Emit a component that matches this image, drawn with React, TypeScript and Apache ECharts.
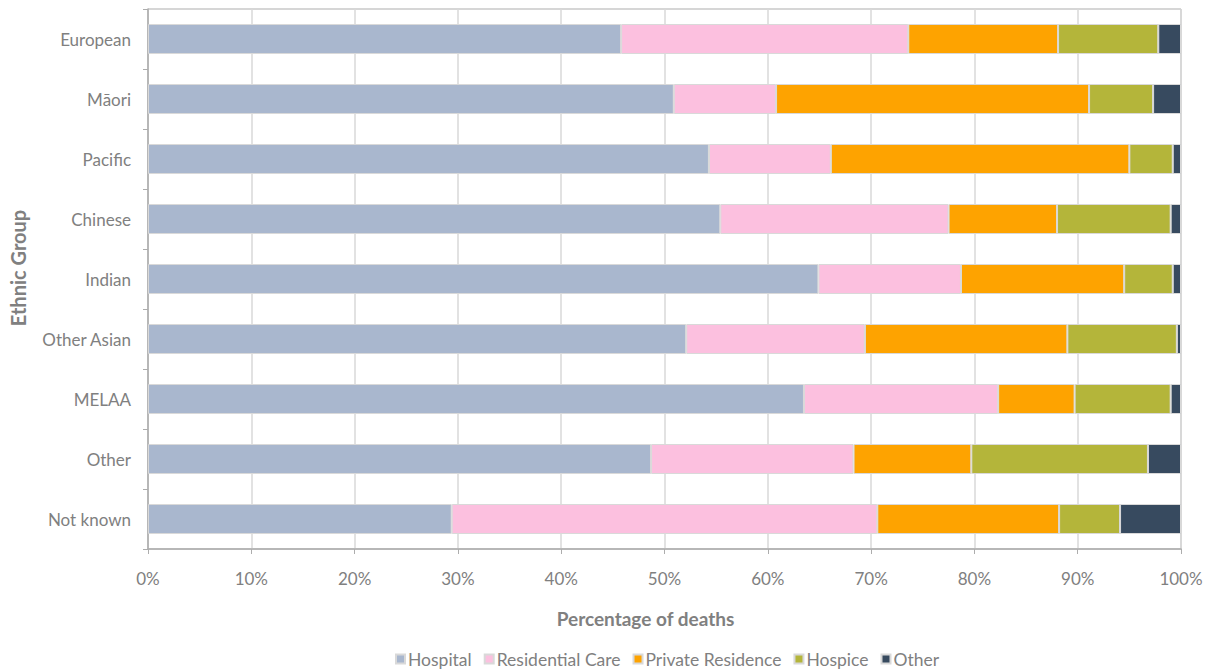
import React, { useEffect, useRef } from "react";
import * as echarts from "echarts";

const categories = ["European", "Māori", "Pacific", "Chinese", "Indian", "Other Asian", "MELAA", "Other", "Not known"];
const hospital = [45.8, 50.9, 54.3, 55.4, 64.9, 52.1, 63.5, 48.7, 29.4];
const residentialCare = [27.8, 9.9, 11.8, 22.1, 13.8, 17.3, 18.8, 19.6, 41.2];
const privateResidence = [14.5, 30.3, 28.9, 10.5, 15.8, 19.6, 7.4, 11.4, 17.6];
const hospice = [9.7, 6.2, 4.2, 11.0, 4.7, 10.6, 9.3, 17.1, 5.9];
const other = [2.2, 2.7, 0.8, 1.0, 0.8, 0.4, 1.0, 3.2, 5.9];
const xTicks = [0, 10, 20, 30, 40, 50, 60, 70, 80, 90, 100];

const seriesDefs = [
  { name: "Hospital", data: hospital, color: "#A9B7CE" },
  { name: "Residential Care", data: residentialCare, color: "#FCC0DF" },
  { name: "Private Residence", data: privateResidence, color: "#FEA300" },
  { name: "Hospice", data: hospice, color: "#B4B53A" },
  { name: "Other", data: other, color: "#374A5F" },
];

const FONT = "Lato, 'Open Sans', sans-serif";
const GREY = "#808080";

export default function App() {
  const ref = useRef<HTMLDivElement>(null);
  useEffect(() => {
    if (!ref.current) return;
    const chart = echarts.init(ref.current, null, { renderer: "svg" });
    chart.setOption({
      animation: false,
      textStyle: { fontFamily: FONT },
      grid: {
        left: 148,
        right: 37,
        top: 9,
        bottom: 122,
        show: true,
        borderColor: "#ADADAD",
        borderWidth: 1,
        containLabel: false,
        outerBoundsMode: "none",
      },
      legend: {
        top: 649,
        left: 395,
        padding: 0,
        itemWidth: 9,
        itemHeight: 9,
        itemGap: 12,
        icon: "rect",
        textStyle: {
          fontFamily: FONT,
          fontSize: 17.5,
          lineHeight: 20,
          color: GREY,
          padding: [0, 0, 0, -2],
        },
        data: seriesDefs.map((s) => s.name),
      },
      xAxis: {
        type: "value",
        min: 0,
        max: 100,
        interval: 10,
        name: "Percentage of deaths",
        nameLocation: "middle",
        nameGap: 60,
        nameTextStyle: {
          fontFamily: FONT,
          fontSize: 19,
          fontWeight: "bold",
          color: GREY,
          padding: [0, 38, 0, 0],
        },
        axisLine: { show: true, lineStyle: { color: "#ADADAD", width: 1.5 } },
        axisTick: { show: true, length: 5, lineStyle: { color: "#ADADAD" } },
        axisLabel: {
          fontFamily: FONT,
          fontSize: 17,
          color: GREY,
          margin: 21,
          formatter: (v: number) => (xTicks.includes(v) ? v + "%" : ""),
        },
        splitLine: { show: true, lineStyle: { color: "#D9D9D9", width: 1.5 } },
      },
      yAxis: {
        type: "category",
        data: categories,
        inverse: true,
        name: "Ethnic Group",
        nameLocation: "middle",
        nameGap: 120,
        nameRotate: 90,
        nameTextStyle: {
          fontFamily: FONT,
          fontSize: 20,
          fontWeight: "bold",
          color: GREY,
          padding: [0, 0, 0, 22],
        },
        axisLine: { show: true, lineStyle: { color: "#ADADAD", width: 1.5 } },
        axisTick: { show: true, length: 5, lineStyle: { color: "#ADADAD" } },
        axisLabel: { fontFamily: FONT, fontSize: 17, color: GREY, margin: 17 },
      },
      series: seriesDefs.map((s) => ({
        name: s.name,
        type: "bar",
        stack: "total",
        barWidth: 30,
        data: s.data,
        itemStyle: { color: s.color, borderColor: "#D9D9D9", borderWidth: 1 },
      })),
    });
    return () => chart.dispose();
  }, []);
  return <div ref={ref} style={{ width: 1218, height: 671, position: "absolute", left: 0, top: 0 }} />;
}
